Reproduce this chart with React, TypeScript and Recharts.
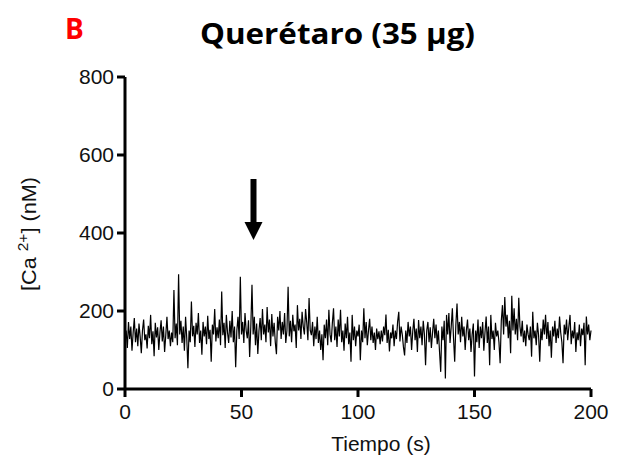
import React from 'react';
import { LineChart, Line, XAxis, YAxis, Label } from 'recharts';

// sampling interval of the recording (s)
const TIME_STEP = 0.5;

// [Ca2+] in nM, 0 - 49.5 s
const CA_0_50 = [
  118, 150, 105, 172, 128, 160, 98, 145, 182, 120, 155, 110, 168, 135, 92, 150, 178, 125, 140, 104,
  162, 130, 190, 115, 148, 84, 170, 132, 158, 100, 145, 176, 122, 160, 95, 138, 185, 128, 150, 110,
  145, 120, 254, 130, 168, 112, 294, 140, 175, 118, 160, 98, 185, 130, 53, 150, 120, 224, 135, 162,
  108, 170, 140, 195, 118, 150, 88, 172, 135, 160, 115, 188, 128, 152, 70, 165, 140, 205, 122, 158,
  130, 178, 112, 250, 138, 170, 105, 190, 145, 118, 175, 132, 200, 120, 160, 56, 150, 185, 128, 288,
];
// 50 - 99.5 s
const CA_50_100 = [
  140, 172, 118, 195, 150, 130, 176, 82, 160, 267, 140, 185, 112, 168, 90, 150, 182, 125, 205, 140,
  165, 120, 210, 145, 178, 110, 192, 135, 170, 120, 89, 185, 150, 200, 128, 172, 140, 195, 118, 150,
  262, 135, 175, 120, 190, 148, 165, 105, 215, 150, 180, 128, 198, 160, 140, 205, 170, 125, 233, 150,
  138, 172, 110, 160, 128, 185, 118, 150, 100, 140, 74, 165, 130, 178, 112, 203, 140, 120, 170, 207,
  125, 160, 108, 178, 135, 203, 120, 150, 98, 168, 130, 185, 115, 145, 70, 190, 125, 160, 110, 150,
];
// 100 - 149.5 s
const CA_100_150 = [
  135, 165, 74, 150, 120, 207, 130, 172, 112, 150, 180, 125, 160, 118, 145, 100, 155, 128, 148, 115,
  150, 122, 160, 138, 191, 118, 152, 96, 145, 130, 165, 110, 150, 128, 172, 198, 122, 160, 140, 108,
  86, 150, 118, 172, 135, 160, 100, 148, 180, 125, 155, 95, 177, 130, 160, 112, 175, 140, 61, 150,
  172, 120, 158, 105, 145, 180, 130, 165, 115, 150, 95, 44, 160, 125, 175, 27, 190, 140, 195, 118,
  160, 207, 130, 70, 165, 219, 140, 172, 120, 185, 135, 160, 100, 150, 178, 125, 155, 95, 140, 168,
];
// 150 - 200 s
const CA_150_200 = [
  32, 150, 120, 178, 105, 160, 130, 172, 98, 145, 186, 118, 160, 61, 190, 128, 150, 100, 170, 135,
  150, 120, 66, 175, 215, 140, 236, 160, 190, 130, 175, 92, 239, 150, 207, 140, 180, 125, 234, 160,
  135, 175, 120, 150, 110, 165, 140, 125, 160, 83, 198, 130, 150, 112, 170, 138, 70, 155, 125, 178,
  140, 190, 128, 172, 110, 150, 80, 160, 135, 175, 118, 155, 130, 186, 145, 120, 66, 165, 140, 178,
  125, 160, 190, 115, 150, 130, 172, 95, 145, 125, 165, 110, 155, 138, 170, 61, 186, 140, 165, 125, 150,
];

const X_TICKS = [0, 50, 100, 150, 200];
const Y_TICKS = [0, 200, 400, 600, 800];

const PANEL = 'B';
const TITLE = 'Querétaro (35 µg)';
const X_LABEL = 'Tiempo (s)';

const data = [...CA_0_50, ...CA_50_100, ...CA_100_150, ...CA_150_200].map((ca, i) => ({
  t: i * TIME_STEP,
  ca,
}));

const FONT = '"Liberation Sans", Arial, sans-serif';
const tickStyle = { fill: '#111', fontSize: 21, fontFamily: FONT };
const axisStroke = { stroke: '#000', strokeWidth: 3 };

export default function App() {
  return (
    <div style={{ position: 'absolute', left: 0, top: 0, width: 620, height: 463, background: '#fff' }}>
      <LineChart
        width={620}
        height={463}
        data={data}
        margin={{ top: 77, right: 29, left: 62, bottom: 4 }}
      >
        <XAxis
          dataKey="t"
          type="number"
          domain={[0, 200]}
          ticks={X_TICKS}
          tick={tickStyle}
          tickSize={8}
          tickMargin={7}
          axisLine={axisStroke}
          tickLine={axisStroke}
          height={70}
        >
          <Label
            value={X_LABEL}
            position="insideBottom"
            offset={8}
            dx={23}
            style={{ fill: '#111', fontSize: 21, fontFamily: FONT }}
          />
        </XAxis>
        <YAxis
          type="number"
          domain={[0, 800]}
          ticks={Y_TICKS}
          tick={tickStyle}
          tickSize={8}
          tickMargin={3}
          axisLine={axisStroke}
          tickLine={axisStroke}
          width={63}
        />
        <Line
          type="linear"
          dataKey="ca"
          stroke="#000"
          strokeWidth={1.2}
          dot={false}
          isAnimationActive={false}
        />
      </LineChart>
      <svg
        width={620}
        height={463}
        style={{ position: 'absolute', left: 0, top: 0, pointerEvents: 'none' }}
      >
        <text x={65} y={38.5} fill="#ff0000" fontSize={28} fontWeight="bold" fontFamily={'"Open Sans", sans-serif'}>
          {PANEL}
        </text>
        <text
          x={200}
          y={43.5}
          textLength={275}
          lengthAdjust="spacingAndGlyphs"
          fill="#000"
          fontSize={28}
          fontWeight="bold"
          fontFamily={'"Open Sans", sans-serif'}
        >
          {TITLE}
        </text>
        <text
          transform="translate(36,291) rotate(-90)"
          textLength={114}
          lengthAdjust="spacingAndGlyphs"
          fill="#111"
          fontSize={21}
          fontFamily={FONT}
        >
          [Ca <tspan dy={-8} fontSize={15}>2+</tspan>
          <tspan dy={8}>] (nM)</tspan>
        </text>
        {/* stimulus arrow */}
        <rect x={250.5} y={179} width={6} height={45} fill="#000" />
        <polygon points="244.5,222 262.5,222 253.5,240" fill="#000" />
      </svg>
    </div>
  );
}
